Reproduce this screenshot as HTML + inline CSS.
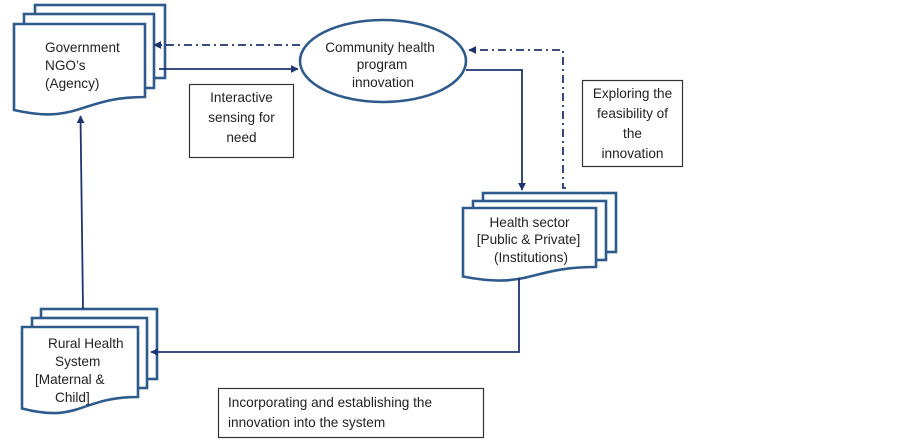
<!DOCTYPE html>
<html>
<head>
<meta charset="utf-8">
<style>
  html,body{margin:0;padding:0;background:#fff;}
  svg{display:block;}
  text{font-family:"Liberation Sans",Arial,sans-serif;font-size:13.6px;fill:#222;}
</style>
</head>
<body>
<svg width="903" height="442" viewBox="0 0 903 442" xmlns="http://www.w3.org/2000/svg">
  <defs>
    <marker id="ah" viewBox="0 0 10 10" refX="9" refY="5" markerWidth="8" markerHeight="8" markerUnits="userSpaceOnUse" orient="auto">
      <path d="M0,0 L10,5 L0,10 z" fill="#1f3470"/>
    </marker>
  </defs>
  <rect width="903" height="442" fill="#fff"/>

  <!-- Government multi-document -->
  <g fill="#fff" stroke="#2f5b8c" stroke-width="2.6" stroke-linejoin="miter">
    <rect x="35" y="5" width="130" height="73"/>
    <rect x="24" y="14" width="130" height="74"/>
    <path d="M14,24 H145 V97 C79.5,97 79.5,125 14,110 Z"/>
  </g>
  <text x="45" y="52">Government</text>
  <text x="45" y="70">NGO’s</text>
  <text x="45" y="88">(Agency)</text>

  <!-- Rural Health multi-document -->
  <g fill="#fff" stroke="#2f5b8c" stroke-width="2.6">
    <rect x="41" y="309" width="116" height="70"/>
    <rect x="32" y="318" width="115" height="70"/>
    <path d="M22,327 H138 V397 C80,397 80,423.5 22,408.5 Z"/>
  </g>
  <text x="48" y="348">Rural Health</text>
  <text x="55" y="366">System</text>
  <text x="35" y="384">[Maternal &amp;</text>
  <text x="55" y="402">Child]</text>

  <!-- Health sector multi-document -->
  <g fill="#fff" stroke="#2f5b8c" stroke-width="2.6">
    <rect x="483" y="193" width="133" height="59"/>
    <rect x="473" y="201" width="133" height="59"/>
    <path d="M463,208 H596 V267 C529.5,267 529.5,289.5 463,276.5 Z"/>
  </g>
  <text x="529.5" y="227" text-anchor="middle">Health sector</text>
  <text x="528.5" y="244" text-anchor="middle">[Public &amp; Private]</text>
  <text x="531" y="262" text-anchor="middle">(Institutions)</text>

  <!-- Ellipse -->
  <ellipse cx="383" cy="61" rx="83" ry="41" fill="#fff" stroke="#2f5b8c" stroke-width="2.6"/>
  <text x="380" y="52" text-anchor="middle">Community health</text>
  <text x="382" y="69" text-anchor="middle">program</text>
  <text x="383" y="87" text-anchor="middle">innovation</text>

  <!-- Text boxes -->
  <rect x="189.5" y="84.5" width="104" height="73" fill="#fff" stroke="#333" stroke-width="1.2"/>
  <text x="241.5" y="102" text-anchor="middle">Interactive</text>
  <text x="241.5" y="122" text-anchor="middle">sensing for</text>
  <text x="241.5" y="142" text-anchor="middle">need</text>

  <rect x="582.5" y="80.5" width="100" height="86" fill="#fff" stroke="#333" stroke-width="1.2"/>
  <text x="632.5" y="98" text-anchor="middle">Exploring the</text>
  <text x="632.5" y="118" text-anchor="middle">feasibility of</text>
  <text x="632.5" y="138" text-anchor="middle">the</text>
  <text x="632.5" y="158" text-anchor="middle">innovation</text>

  <rect x="218.5" y="388.5" width="265" height="49" fill="#fff" stroke="#333" stroke-width="1.2"/>
  <text x="228" y="407">Incorporating and establishing the</text>
  <text x="228" y="427">innovation into the system</text>

  <!-- Connectors -->
  <g fill="none" stroke="#1f3470" stroke-width="1.8">
    <path d="M300,45 H154" stroke-dasharray="8,4,2,4" marker-end="url(#ah)"/>
    <path d="M159,69 H298" marker-end="url(#ah)"/>
    <path d="M466,70 H522 V190" marker-end="url(#ah)"/>
    <path d="M566,188 H563 V50 H469" stroke-dasharray="8,4,2,4" marker-end="url(#ah)"/>
    <path d="M519,278 V352 H151" marker-end="url(#ah)"/>
    <path d="M83,309 L80.5,116" marker-end="url(#ah)"/>
  </g>
</svg>
</body>
</html>
